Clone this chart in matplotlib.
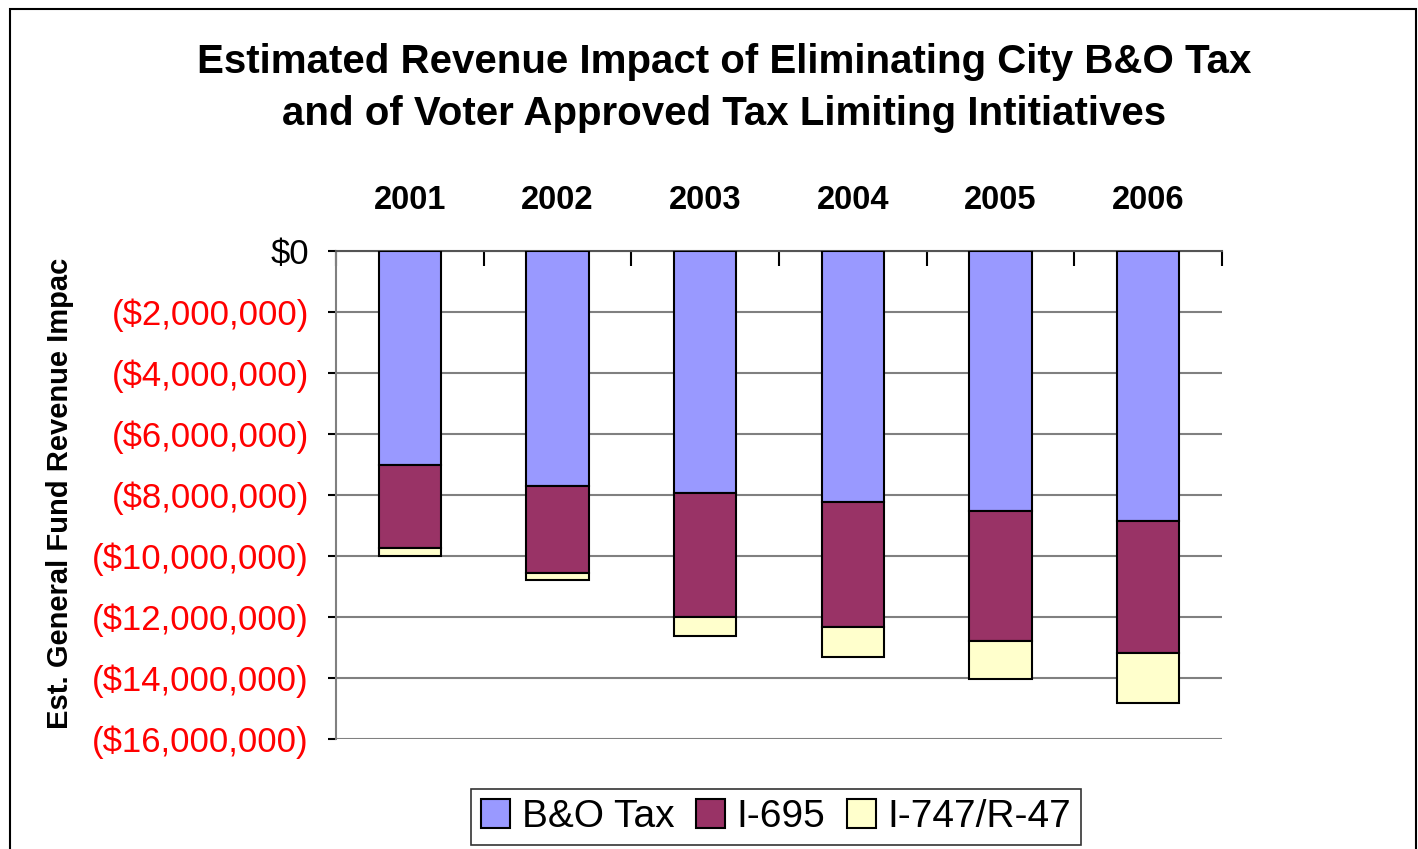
import matplotlib.pyplot as plt
from matplotlib.patches import Rectangle
from matplotlib.ticker import FixedLocator

plt.rcParams['font.family'] = ['Liberation Sans', 'DejaVu Sans']

years = ['2001', '2002', '2003', '2004', '2005', '2006']
# revenue impact in dollars (negative = loss)
bo_tax = [-7020000, -7700000, -7920000, -8230000, -8510000, -8850000]
i695 = [-2730000, -2850000, -4070000, -4100000, -4280000, -4340000]
i747 = [-260000, -240000, -630000, -970000, -1250000, -1640000]
yticks = [0, -2000000, -4000000, -6000000, -8000000, -10000000,
          -12000000, -14000000, -16000000]

fig = plt.figure(figsize=(14.18, 8.49), dpi=100)
ax = fig.add_axes([336 / 1418, 1 - 739 / 849, (1222 - 336) / 1418, (739 - 251) / 849])

x = range(len(years))
w = 0.42
base2 = [a for a in bo_tax]
base3 = [a + b for a, b in zip(bo_tax, i695)]
ax.bar(x, bo_tax, w, color='#9999FF', edgecolor='black', linewidth=1.5, label='B&O Tax', zorder=3)
ax.bar(x, i695, w, bottom=base2, color='#993366', edgecolor='black', linewidth=1.5, label='I-695', zorder=3)
ax.bar(x, i747, w, bottom=base3, color='#FFFFCC', edgecolor='black', linewidth=1.5, label='I-747/R-47', zorder=3)

ax.set_xlim(-0.5, len(years) - 0.5)
ax.set_ylim(-16000000, 0)

# category axis on top
ax.xaxis.tick_top()
ax.set_xticks(list(x))
ax.set_xticklabels(years, fontsize=23.5, fontweight='bold')
ax.tick_params(axis='x', which='major', length=0, pad=25)
ax.xaxis.set_minor_locator(FixedLocator([i - 0.5 for i in range(len(years) + 1)]))
ax.tick_params(axis='x', which='minor', direction='in', length=11, width=1.5, color='black', top=True)

ax.set_yticks(yticks)
labels = ['$0' if v == 0 else '(${:,})'.format(-v) for v in yticks]
ax.set_yticklabels(labels, fontsize=25)
for lab, v in zip(ax.get_yticklabels(), yticks):
    lab.set_color('black' if v == 0 else 'red')
ax.tick_params(axis='y', direction='out', length=6, width=1.5, color='black', pad=13.5)

ax.grid(axis='y', color='#808080', linewidth=1.5, zorder=0)
ax.set_axisbelow(True)
for s in ['right', 'bottom']:
    ax.spines[s].set_visible(False)
ax.spines['top'].set_color('#555555')
ax.spines['top'].set_linewidth(1.5)
ax.spines['left'].set_color('#808080')
ax.spines['left'].set_linewidth(1.5)

fig.text(60 / 1418, 1 - 493 / 849, 'Est. General Fund Revenue Impac', rotation=90,
         fontsize=21, fontweight='bold', ha='center', va='center')

fig.text(724 / 1418, 1 - 88 / 849,
         'Estimated Revenue Impact of Eliminating City B&O Tax\nand of Voter Approved Tax Limiting Intitiatives',
         fontsize=29, fontweight='bold', ha='center', va='center', linespacing=1.45)

leg = fig.legend(loc='center', bbox_to_anchor=(776 / 1418, 1 - 817 / 849), ncol=3,
                 fontsize=28, frameon=True, fancybox=False, edgecolor='black',
                 handlelength=0.75, handleheight=0.75, handletextpad=0.3,
                 columnspacing=0.55, borderpad=0.25, borderaxespad=0)
leg.get_frame().set_linewidth(1.2)

fig.patches.append(Rectangle((10 / 1418, -0.05), 1406 / 1418, 1.05 - 9 / 849,
                             transform=fig.transFigure, fill=False,
                             edgecolor='black', linewidth=1.5))

fig.savefig('out.png', dpi=100)
